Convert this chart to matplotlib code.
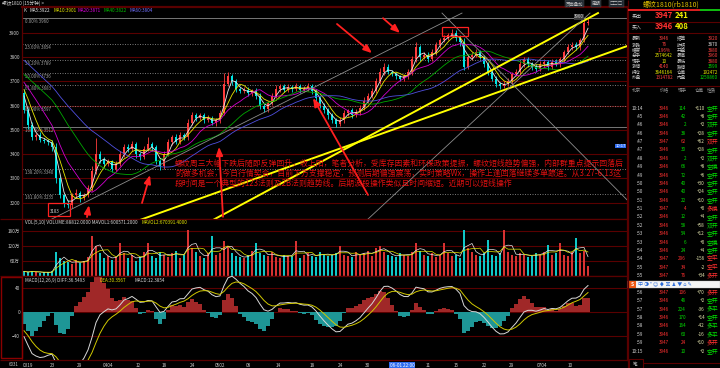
import matplotlib
matplotlib.use('Agg')
import matplotlib.pyplot as plt
from matplotlib.patches import Rectangle
import numpy as np
import pandas as pd

plt.rcParams['font.family'] = ['Noto Sans CJK SC', 'DejaVu Sans']

# ---- data (15 min bars, two real bars merged into one) ----
pre_close = [3960, 3950, 3940, 3930, 3925, 3920, 3910, 3900, 3890, 3880,
             3790, 3780, 3775, 3770, 3765, 3760, 3755, 3750, 3748, 3745,
             3740, 3735, 3730, 3725, 3720, 3715, 3710, 3700, 3690, 3650]
close = [3580, 3520, 3470, 3480, 3460, 3455, 3450, 3430, 3300, 3230,
         3200, 3190, 3230, 3240, 3220, 3230, 3260, 3330, 3400, 3380,
         3360, 3370, 3340, 3360, 3400, 3430, 3420, 3440, 3400, 3390,
         3420, 3440, 3430, 3370, 3350, 3400, 3450, 3470, 3450, 3480,
         3470, 3530, 3560, 3550, 3560, 3540, 3550, 3530, 3540, 3570,
         3690, 3720, 3700, 3670, 3660, 3665, 3650, 3660, 3640, 3600,
         3585, 3610, 3640, 3670, 3680, 3665, 3675, 3670, 3680, 3665,
         3670, 3680, 3660, 3630, 3600, 3580, 3560, 3540, 3525, 3540,
         3570, 3580, 3560, 3575, 3590, 3620, 3640, 3660, 3700, 3740,
         3760, 3740, 3730, 3720, 3710, 3720, 3740, 3790, 3840, 3800,
         3810, 3790, 3820, 3850, 3870, 3880, 3890, 3900, 3880, 3860,
         3760, 3800, 3810, 3820, 3800, 3770, 3740, 3710, 3690, 3680,
         3690, 3700, 3730, 3740, 3770, 3790, 3770, 3760, 3750, 3770,
         3780, 3760, 3780, 3770, 3790, 3820, 3840, 3850, 3840, 3870,
         3940, 3946]
up_wick = [20, 10, 12, 8, 10, 6, 8, 10, 15, 10,
           8, 10, 12, 15, 8, 10, 12, 20, 66, 12,
           10, 12, 8, 10, 15, 12, 10, 14, 10, 8,
           12, 30, 10, 8, 10, 12, 14, 10, 12, 10,
           8, 15, 12, 10, 10, 8, 10, 8, 10, 12,
           44, 20, 12, 10, 8, 12, 10, 8, 12, 10,
           8, 10, 12, 14, 10, 8, 12, 10, 15, 8,
           10, 12, 8, 10, 8, 12, 10, 8, 10, 12,
           10, 8, 12, 10, 12, 14, 10, 12, 15, 16,
           14, 10, 8, 10, 8, 12, 10, 16, 20, 10,
           12, 10, 14, 12, 10, 12, 10, 15, 12, 10,
           20, 14, 10, 12, 8, 10, 8, 10, 12, 8,
           10, 12, 10, 12, 14, 12, 10, 8, 10, 12,
           10, 8, 12, 10, 12, 10, 12, 10, 12, 10,
           12, 14]
dn_wick = [10, 15, 10, 12, 8, 10, 12, 15, 20, 12,
           17, 12, 10, 8, 15, 10, 8, 12, 10, 15,
           12, 10, 15, 8, 10, 12, 10, 8, 15, 12,
           10, 8, 15, 12, 14, 10, 8, 12, 10, 8,
           12, 10, 8, 15, 10, 12, 8, 10, 12, 10,
           8, 10, 15, 12, 10, 8, 12, 10, 14, 15,
           12, 10, 8, 10, 12, 10, 8, 12, 10, 15,
           10, 8, 12, 15, 10, 12, 14, 10, 12, 8,
           10, 12, 10, 8, 12, 10, 8, 10, 8, 10,
           12, 10, 8, 12, 10, 8, 10, 12, 10, 15,
           10, 12, 8, 10, 12, 8, 10, 8, 12, 15,
           13, 10, 12, 8, 10, 12, 14, 10, 12, 10,
           8, 10, 12, 8, 10, 12, 10, 12, 10, 8,
           10, 12, 10, 8, 12, 10, 8, 10, 12, 10,
           8, 10]
volume = [18, 14, 20, 16, 12, 15, 14, 18,
          95, 70, 60, 55, 48, 65, 50, 58,
          75, 160, 120, 90, 70,
          80, 65, 75, 130, 90, 70, 85, 60, 75, 95,
          130, 80, 70, 95, 85, 75, 90, 100, 70, 85,
          182, 110, 95, 80, 70, 90, 160, 85, 90, 140,
          120, 90, 80, 75, 70, 85, 100, 130, 90, 85,
          80, 95, 75, 70, 85, 80, 80, 140, 70, 85,
          90, 80, 75, 95, 85, 80, 85, 90, 120, 85,
          80, 75, 95, 85, 90, 100, 80, 110, 120, 95,
          85, 80, 75, 90, 85, 80, 95, 130, 100, 85,
          80, 90, 75, 85, 130, 90, 80, 85, 70, 182,
          110, 95, 85, 80, 90, 142, 85, 80, 90, 182,
          95, 85, 80, 90, 85, 75, 80, 90, 85, 95,
          122, 85, 90, 130, 85, 80, 95, 150, 90, 100, 40]

date_labels = ['0319', '23', '29', '0404', '12', '18', '24', '0502', '08', '14',
               '18', '24', '30', '06-01 22:00', '11', '15', '22', '29', '0704', '10']
date_pos = [1, 7, 14, 21, 28.5, 35, 42, 49, 56, 63.5,
            72, 79, 86, 94.5, 101, 108, 115, 122, 129.5, 136.5]

fib_pct = ['0.00%', '23.60%', '38.20%', '50.00%', '61.80%', '80.90%', '100.00%', '138.20%', '161.80%']
fib_val = [3960, 3854, 3789, 3736, 3683, 3597, 3512, 3340, 3235]

note = ['螺纹周三大幅下跌后随即反弹回升，收上阳，笔者分析，受库存因素和环保政策提振，螺纹短线趋势偏强，内部群重点提示回落后',
        '的做多机会，今日行情契合，目前下方支撑稳定，预测后期偏强震荡，实时策略Wx，操作上逢回落继续多单跟进。从3.27-6.13这',
        '段时间是一个典型的123法则及2B法则趋势线。后期波段操作类似且时间缩短。近期可以短线操作']

quote_left = [('最新', '3946'), ('涨跌', '76'), ('幅度', '1.96%'), ('总手', '2574642'),
              ('现手', '10'), ('涨停', '4140'), ('持仓', '3646164'), ('外盘', '1314782')]
quote_right = [('结算', '3920'), ('昨结', '3870'), ('开盘', '3880'), ('最高', '3960'),
               ('最低', '3880'), ('跌停', '3599'), ('仓差', '192472'), ('内盘', '1259860')]
left_colors = ['#ff4040', '#ff4040', '#ff4040', '#e8e800', '#e8e800', '#ff4040', '#e8e800', '#ff4040']
right_colors = ['#ff4040', '#d8d8d8', '#ff4040', '#ff4040', '#ff4040', '#00e000', '#e8e800', '#00e000']

tick_time = ['10:14', ':45', ':46', ':46', ':47', ':47', ':48', ':49', ':49', ':50',
             ':50', ':51', ':51', ':52', ':52', ':53', ':53', ':54', ':54', ':55',
             ':55', ':56', ':57', ':57', ':58', ':58', ':59', ':59', '10:15']
tick_price = [3946, 3946, 3946, 3946, 3947, 3946, 3946, 3946, 3946, 3946,
              3946, 3946, 3947, 3946, 3946, 3946, 3946, 3946, 3947, 3947,
              3947, 3947, 3946, 3946, 3946, 3946, 3946, 3947, 3946]
tick_vol = [114, 42, 2, 38, 62, 30, 2, 66, 72, 40,
            40, 22, 4, 12, 58, 54, 6, 24, 296, 34,
            76, 106, 46, 224, 170, 164, 60, 24, 10]
tick_oi = ['+110', '+8', '+2', '+28', '+62', '+28', '+2', '+8', '+6', '+30',
           '+24', '+10', '+0', '+4', '+58', '+12', '+0', '+4', '-156', '-2',
           '+34', '+70', '+2', '-36', '+14', '-42', '-16', '+10', '+2']
tick_kind = ['空开', '空开', '双开', '空开', '双开', '空开', '双开', '空换', '空开', '空开',
             '空开', '空开', '多换', '空开', '双开', '空开', '空换', '空开', '空平', '空平',
             '多开', '多开', '空开', '多平', '空开', '多平', '多平', '多开', '空开']

# ---- derived series ----
allc = pd.Series(pre_close + close, dtype=float)
n0 = len(pre_close)
ma = {w: allc.rolling(w, min_periods=1).mean().values[n0:] for w in (3, 5, 10, 20, 30)}
c = np.array(close, dtype=float)
o = np.array([pre_close[-1]] + close[:-1], dtype=float)
hi = np.maximum(o, c) + np.array(up_wick)
lo = np.minimum(o, c) - np.array(dn_wick)
x = np.arange(len(close))
rising = c >= o

dif = allc.ewm(span=6, adjust=False).mean() - allc.ewm(span=13, adjust=False).mean()
dea = dif.ewm(span=5, adjust=False).mean()
dif, dea = dif.values[n0:], dea.values[n0:]
hist = 2 * (dif - dea)
vol = pd.Series(volume, dtype=float)
mavol1 = vol.rolling(3, min_periods=1).mean()
mavol2 = vol.rolling(5, min_periods=1).mean()

# ---- figure ----
W, H = 720, 368
BG = 'black'
GRID = '#5a0000'
UP, DN = '#ff3c3c', '#00e6e6'
TXT = '#c8c8c8'

fig = plt.figure(figsize=(7.2, 3.68), dpi=100, facecolor=BG)


def box(x0, y0, x1, y1):
    a = fig.add_axes([x0 / W, 1 - y1 / H, (x1 - x0) / W, (y1 - y0) / H])
    a.set_facecolor(BG)
    for s in a.spines.values():
        s.set_color(GRID)
        s.set_linewidth(0.9)
    a.tick_params(colors=TXT, labelsize=3.4, length=0, pad=1.5)
    a.set_xlim(-0.5, 150.75)
    a.set_xticks([])
    return a


# price panel
ax = box(22, 7, 627, 219)
ax.spines['top'].set_linewidth(1.6)
ax.set_ylim(3133, 4006)
ax.set_yticks(range(3200, 4000, 100))
for p in range(3200, 4000, 100):
    ax.axhline(p, color=GRID, lw=0.8, zorder=0)
for k, (pc, fv) in enumerate(zip(fib_pct, fib_val)):
    ls = '-' if pc in ('0.00%', '100.00%') else (0, (1.2, 1.8))
    ax.axhline(fv, color='#8a8a8a', lw=0.6, ls=ls, zorder=1)
    ax.text(0.2, fv - 4, f'{pc} {fv}', color='#a0a0a0', fontsize=3.2, va='top', zorder=2)

ax.vlines(x, lo, hi, colors=np.where(rising, UP, DN), lw=0.6, zorder=3)
ax.bar(x, np.maximum(np.abs(c - o), 2), bottom=np.minimum(o, c), width=0.62,
       color=np.where(rising, UP, DN), lw=0, zorder=3)
for w, col in zip((3, 5, 10, 20, 30), ('#e8e8e8', '#e8e800', '#d000d0', '#00a800', '#5050e0')):
    ax.plot(x, ma[w], color=col, lw=0.6, zorder=4)

# drawings on the chart
for (x0, p0, x1, p1) in [(29, 3129, 150.75, 3845), (47.25, 3129, 143.5, 3981)]:
    ax.plot([x0, x1], [p0, p1], color='#ffff00', lw=1.4, zorder=5)
for (x0, p0, x1, p1) in [(6.5, 3129, 109.5, 3981), (104.5, 3981, 150.75, 3212), (85.75, 3129, 141.5, 3981)]:
    ax.plot([x0, x1], [p0, p1], color='#8c8c8c', lw=0.6, zorder=5)
for (tx, tp, hx, hp) in [(78.25, 3936, 87, 3816), (89.75, 3960, 94, 3899), (86, 3232, 72.25, 3631),
                         (29.5, 3199, 31.5, 3314), (15.75, 3141, 16.25, 3190), (49.75, 3142, 48.75, 3430)]:
    ax.annotate('', xy=(hx, hp), xytext=(tx, tp), zorder=6,
                arrowprops=dict(arrowstyle='-|>,head_length=0.5,head_width=0.2',
                                color='#ff2020', lw=1.3, shrinkA=0, shrinkB=0))
ax.add_patch(Rectangle((104.5, 3886), 6.5, 37, fill=False, ec='#ff2020', lw=0.9, zorder=6))
ax.add_patch(Rectangle((6, 3146), 5.5, 53, fill=False, ec='#ff2020', lw=0.9, zorder=6))
ax.text(6.6, 3163, '3183', color='#d0d0d0', fontsize=3.2, va='center', zorder=7)
ax.text(137.5, 3966, '3960', color='#d0d0d0', fontsize=3.2, va='center', zorder=7,
        bbox=dict(fc='#3a3a3a', ec='none', pad=0.3))
for k, line in enumerate(note):
    ax.text(0.253, 0.264 - 0.047 * k, line, transform=ax.transAxes, color='#e01010',
            fontsize=5.7, va='center', ha='left', clip_on=True, zorder=8)

# volume panel
axv = box(22, 219, 627, 276)
axv.set_ylim(0, 226)
axv.set_yticks([60, 120, 180], ['60万', '120万', '180万'])
for v in (60, 120, 180):
    axv.axhline(v, color=GRID, lw=0.8, zorder=0)
axv.bar(x, volume, width=0.72, color=np.where(rising, '#d83232', '#10c8c8'), lw=0, zorder=2)
axv.plot(x, mavol1, color='#e8e8e8', lw=0.5, zorder=3)
axv.plot(x, mavol2, color='#e8e800', lw=0.5, zorder=3)
axv.text(0.2, 212, 'VOL(5,10) VOLUME:88812.0000 MAVOL1:600571.2000', color='#d8d8d8',
         fontsize=3.3, va='center', zorder=4)
axv.text(29.3, 212, 'MAVOL2:670391.4000', color='#e8e800', fontsize=3.3, va='center', zorder=4)

# macd panel
axm = box(22, 276, 627, 360)
axm.set_ylim(-79, 59)
axm.set_yticks([-40, 0, 40])
for v in (-40, 0, 40):
    axm.axhline(v, color=GRID, lw=0.8, zorder=0)
axm.bar(x, hist, width=0.85, color=np.where(hist >= 0, '#a02828', '#1e9696'), lw=0, zorder=2)
axm.plot(x, dif, color='#d8d8d8', lw=0.7, zorder=3)
axm.plot(x, dea, color='#d0c800', lw=0.7, zorder=3)
axm.text(0.2, 52, 'MACD(12,26,9) DIFF:36.5493', color='#d8d8d8', fontsize=3.3, va='center', zorder=4)
axm.text(19.0, 52, 'DEA:30.3567', color='#e8e800', fontsize=3.3, va='center', zorder=4)
axm.text(27.6, 52, 'MACD:12.3854', color='#d8d8d8', fontsize=3.3, va='center', zorder=4)
axm.set_xticks(date_pos, date_labels)
axm.tick_params(axis='x', pad=2)
for t in axm.get_xticklabels():
    if t.get_text().startswith('06-01'):
        t.set_color('white')
        t.set_bbox(dict(fc='#2f6cf0', ec='none', pad=0.4))

# overlay: header, left margin, quote panel
ov = fig.add_axes([0, 0, 1, 1])
ov.set_xlim(0, W)
ov.set_ylim(H, 0)
ov.axis('off')

ov.text(2, 3.5, '螺纹1810 (15分钟) >', color='#d8d8d8', fontsize=3.4, va='center')
ov.text(24, 11, 'K', color='#d8d8d8', fontsize=3.3, va='center')
for xx, s, col in [(30, 'MA5:3922', '#e8e8e8'), (53, 'MA10:3901', '#e8e800'), (77, 'MA20:3871', '#e000e0'),
                   (103, 'MA40:3822', '#00c000'), (129, 'MA60:3804', '#7070ff')]:
    ov.text(xx, 11, s, color=col, fontsize=3.3, va='center')
for xx, s in [(566, '页面叠加'), (592, '周期'), (610, '□□□')]:
    ov.text(xx, 3.5, s, color='#c0c0c0', fontsize=3.2, va='center',
            bbox=dict(fc='#202830', ec='#505050', lw=0.3, pad=0.4))
ov.hlines([219, 276, 360], 0, 22, color=GRID, lw=0.9)
ov.add_patch(Rectangle((0.5, 277), 21, 81, fill=False, ec='#8a0000', lw=1.0))
ov.text(14, 365, '6031', color=TXT, fontsize=3.2, va='center', ha='center')
ov.text(626, 146, '10:17', color='white', fontsize=3.0, va='center', ha='right',
        bbox=dict(fc='#2f6cf0', ec='none', pad=0.3))

# quote panel
ov.vlines(628, 0, H, color=GRID, lw=0.9)
ov.text(671, 5, '螺纹1810(rb1810)', color='#e0c000', fontsize=5.0, va='center', ha='center')
ov.hlines(10, 628, 700, color='#e02020', lw=1.4)
ov.hlines(10, 700, 720, color='#10c010', lw=1.4)
ov.hlines([21.5, 33, 85.5], 628, 720, color=GRID, lw=0.8)
for yy, lab, p, q in [(15.7, '卖出', '3947', '241'), (26.8, '买入', '3946', '408')]:
    ov.text(632, yy, lab, color='#c8c8c8', fontsize=3.6, va='center')
    ov.text(655, yy, p, color='#ff3030', fontsize=5.6, va='center', weight='bold')
    ov.text(675, yy, q, color='#f0f000', fontsize=5.6, va='center', weight='bold')
for k in range(len(quote_left)):
    yy = 39 + 5.57 * k
    ov.text(632, yy, quote_left[k][0], color='#c8c8c8', fontsize=3.3, va='center')
    ov.text(664, yy, quote_left[k][1], color=left_colors[k], fontsize=3.3, va='center', ha='center')
    ov.text(677, yy, quote_right[k][0], color='#c8c8c8', fontsize=3.3, va='center')
    ov.text(718, yy, quote_right[k][1], color=right_colors[k], fontsize=3.3, va='center', ha='right')
for xx, s in [(636, '北京'), (664, '价格'), (682, '现手'), (700, '仓差'), (712, '性质')]:
    ov.text(xx, 90, s, color='#909090', fontsize=3.3, va='center', ha='center')
for k in range(len(tick_time)):
    slot = k if k < 21 else k + 1
    yy = 108 + 8.38 * slot
    col = '#ff3030' if tick_price[k] == 3947 else '#00e000'
    ov.text(643, yy, tick_time[k], color='#d8d8d8', fontsize=3.3, va='center', ha='right')
    ov.text(664, yy, str(tick_price[k]), color='#ff3030', fontsize=3.3, va='center', ha='center')
    ov.text(686, yy, str(tick_vol[k]), color=col, fontsize=3.3, va='center', ha='right')
    ov.text(705, yy, tick_oi[k], color='#e6e6b0', fontsize=3.3, va='center', ha='right')
    ov.text(707, yy, tick_kind[k], color=col, fontsize=4.2, va='center', ha='left')
# input-method toolbar floating over the list
ov.add_patch(Rectangle((628, 280.5), 92, 7.5, fc='#f4f4f4', ec='#c0c0c0', lw=0.3))
ov.add_patch(Rectangle((629, 281), 6.5, 6.5, fc='#f05a14', ec='none'))
ov.text(632.2, 284.3, 'S', color='white', fontsize=3.6, va='center', ha='center', weight='bold')
ov.text(638, 284.3, '中 ◑ ❜ ☺ ♦ ▣ ♟ ▼ ⌂ ✎', color='#2a6ad8', fontsize=3.6, va='center')
ov.hlines(362.5, 643, 720, color=GRID, lw=0.8)
ov.add_patch(Rectangle((628.5, 359), 14, 9, fill=False, ec=GRID, lw=0.8))
ov.text(635.5, 364, '笔', color='#d0d0d0', fontsize=3.4, va='center', ha='center')

fig.savefig('out.png', dpi=100, facecolor=BG)
